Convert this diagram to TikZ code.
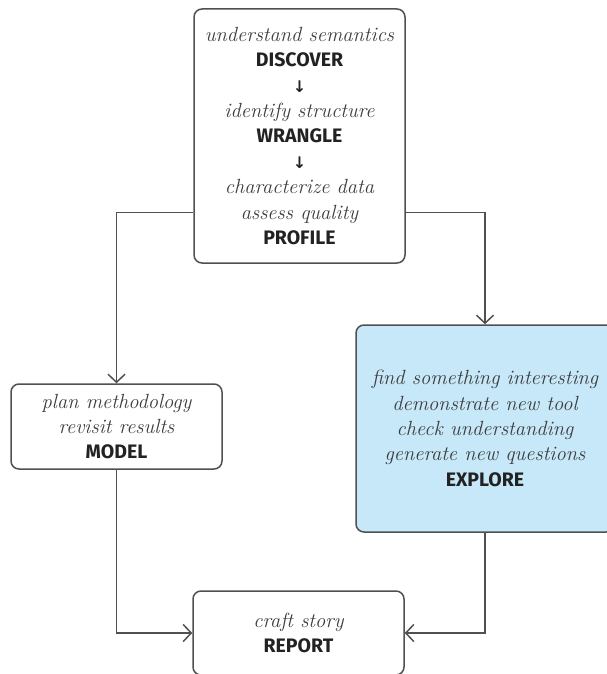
\documentclass[tikz,border=0pt]{standalone}
\usepackage{fontspec}
\setsansfont{Fira Sans}
\newfontfamily\arrowfont{DejaVu Sans}
\usetikzlibrary{arrows.meta}

\definecolor{edgegray}{HTML}{505050}
\definecolor{notegray}{HTML}{3C3C3C}
\definecolor{stagedark}{HTML}{222222}
\definecolor{explorefill}{HTML}{C6E8F8}

% stage name in bold upright sans capitals
\newcommand{\stagename}[1]{{\upshape\sffamily\bfseries\fontsize{19.5}{25.4}\selectfont\color{stagedark}#1}}
% small downward step arrow between stages
\newcommand{\stepdown}{{\upshape\arrowfont\bfseries\fontsize{16}{25.4}\selectfont\color{stagedark}↓}}

\tikzset{
  stagebox/.style={draw=edgegray, line width=1.5pt, rounded corners=8pt,
    align=center, inner sep=0pt, text=notegray,
    font=\itshape\fontsize{20.5}{25.4}\selectfont},
  conn/.style={draw=edgegray, line width=1.5pt,
    -{Straight Barb[length=8pt,width=17pt,line width=1.5pt]}},
}

\begin{document}
\begin{tikzpicture}[x=1pt,y=-1pt]
  \clip (0,0) rectangle (607,674);

  \node[stagebox, minimum width=211pt, minimum height=254pt] (top) at (299.5,136)
    {understand semantics\\ \stagename{DISCOVER}\\ \stepdown\\
     identify structure\\ \stagename{WRANGLE}\\ \stepdown\\
     characterize data\\ assess quality\\ \stagename{PROFILE}};

  \node[stagebox, minimum width=211pt, minimum height=85pt] (model) at (116.5,426.5)
    {plan methodology\\ revisit results\\ \stagename{MODEL}};

  \node[stagebox, fill=explorefill, minimum width=258pt, minimum height=207pt] (explore) at (485,428.5)
    {find something interesting\\ demonstrate new tool\\ check understanding\\
     generate new questions\\ \stagename{EXPLORE}};

  \node[stagebox, minimum width=211pt, minimum height=84pt] (report) at (298.5,633)
    {craft story\\ \stagename{REPORT}};

  \coordinate (split) at (299.5,212.7);

  \draw[conn] (top.west |- split) -| (model.north);
  \draw[conn] (top.east |- split) -| (explore.north);
  \draw[conn] (model.south) |- (report.west);
  \draw[conn] (explore.south) |- (report.east);
\end{tikzpicture}
\end{document}
